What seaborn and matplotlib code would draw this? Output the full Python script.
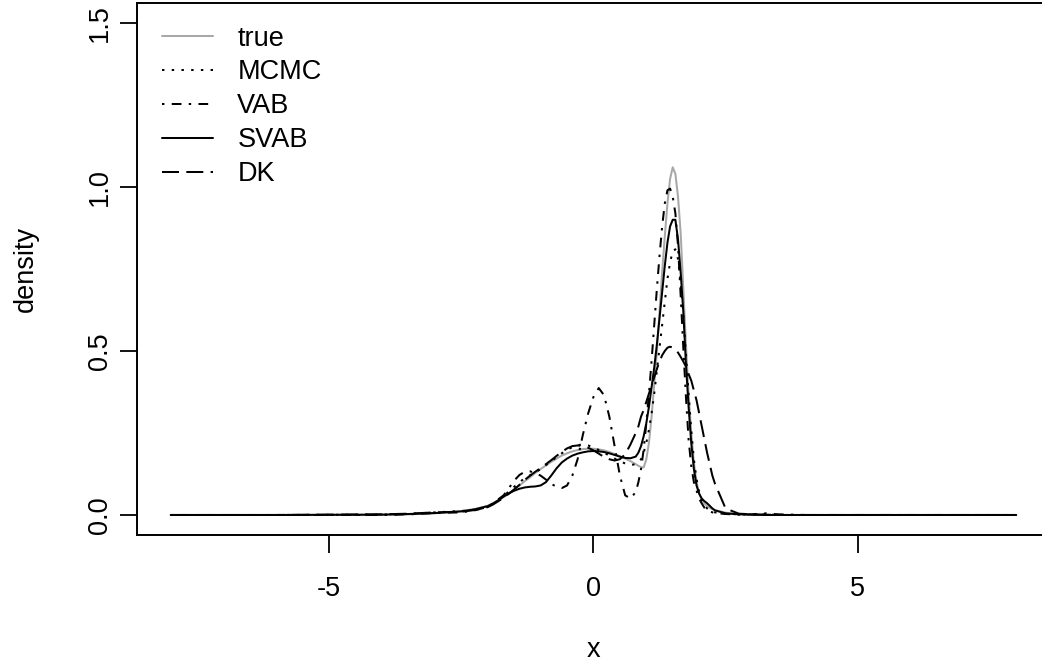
import matplotlib
matplotlib.use("Agg")
import matplotlib.pyplot as plt
import seaborn as sns
import pandas as pd

# ---- data ----
x_grid = [-8, -6, -4, -3.5, -3, -2.5, -2.25,
          -2.0, -1.9, -1.8, -1.7, -1.6, -1.5, -1.4, -1.3, -1.2, -1.1,
          -1.0, -0.9, -0.8, -0.7, -0.6, -0.5, -0.4, -0.3, -0.2, -0.1,
          0.0, 0.1, 0.2, 0.3, 0.4, 0.5, 0.6, 0.7, 0.8,
          0.85, 0.9, 0.95, 1.0, 1.05, 1.1, 1.15, 1.2, 1.25, 1.3,
          1.35, 1.4, 1.45, 1.5, 1.55, 1.6, 1.65, 1.7, 1.75, 1.8,
          1.85, 1.9, 1.95, 2.0, 2.05, 2.1, 2.15, 2.2, 2.25, 2.3,
          2.5, 2.75, 3.0, 3.25, 3.5, 4, 6, 8]

true_density = [0, 0, 0.001, 0.002, 0.005, 0.012, 0.018,
                0.028, 0.036, 0.045, 0.055, 0.066, 0.078, 0.090, 0.103, 0.115, 0.128,
                0.140, 0.151, 0.162, 0.172, 0.181, 0.188, 0.194, 0.198, 0.201, 0.202,
                0.202, 0.200, 0.197, 0.192, 0.186, 0.179, 0.172, 0.164, 0.155,
                0.150, 0.146, 0.145, 0.170, 0.220, 0.300, 0.400, 0.500, 0.620, 0.740,
                0.850, 0.950, 1.025, 1.060, 1.040, 0.970, 0.860, 0.690, 0.520, 0.370,
                0.250, 0.160, 0.100, 0.065, 0.045, 0.035, 0.027, 0.022, 0.018, 0.015,
                0.007, 0.003, 0.001, 0, 0, 0, 0, 0]

mcmc_density = [0, 0, 0.001, 0.003, 0.008, 0.012, 0.016,
                0.025, 0.034, 0.045, 0.058, 0.072, 0.086, 0.100, 0.112, 0.121, 0.130,
                0.140, 0.152, 0.164, 0.176, 0.188, 0.198, 0.207, 0.213, 0.215, 0.212,
                0.206, 0.198, 0.190, 0.181, 0.172, 0.164, 0.157, 0.152, 0.155,
                0.160, 0.170, 0.190, 0.220, 0.260, 0.310, 0.370, 0.440, 0.510, 0.580,
                0.650, 0.720, 0.770, 0.805, 0.810, 0.780, 0.710, 0.610, 0.490, 0.370,
                0.260, 0.170, 0.110, 0.070, 0.045, 0.030, 0.020, 0.014, 0.010, 0.008,
                0.004, 0.002, 0.001, 0.002, 0, 0, 0, 0]

vab_density = [0, 0, 0, 0.002, 0.006, 0.008, 0.014,
               0.025, 0.035, 0.048, 0.060, 0.082, 0.105, 0.122, 0.132, 0.133, 0.128,
               0.120, 0.108, 0.095, 0.086, 0.082, 0.090, 0.120, 0.170, 0.245, 0.310,
               0.360, 0.387, 0.365, 0.300, 0.210, 0.120, 0.060, 0.050, 0.070,
               0.100, 0.140, 0.200, 0.280, 0.370, 0.470, 0.580, 0.690, 0.790, 0.880,
               0.950, 0.990, 0.995, 0.970, 0.920, 0.820, 0.670, 0.510, 0.360, 0.230,
               0.150, 0.100, 0.075, 0.050, 0.035, 0.022, 0.015, 0.011, 0.008, 0.006,
               0.003, 0.001, 0.002, 0.005, 0.002, 0, 0, 0]

svab_density = [0, 0, 0.001, 0.003, 0.006, 0.011, 0.017,
                0.027, 0.035, 0.045, 0.056, 0.066, 0.074, 0.080, 0.084, 0.086, 0.087,
                0.090, 0.100, 0.120, 0.142, 0.160, 0.172, 0.181, 0.187, 0.191, 0.194,
                0.195, 0.194, 0.192, 0.188, 0.183, 0.178, 0.174, 0.173, 0.178,
                0.190, 0.210, 0.240, 0.280, 0.330, 0.390, 0.450, 0.520, 0.600, 0.680,
                0.760, 0.830, 0.880, 0.900, 0.900, 0.840, 0.740, 0.620, 0.460, 0.330,
                0.220, 0.140, 0.090, 0.065, 0.050, 0.042, 0.036, 0.028, 0.020, 0.014,
                0.005, 0.002, 0.001, 0, 0, 0, 0, 0]

dk_density = [0, 0, 0.002, 0.004, 0.008, 0.010, 0.015,
              0.024, 0.032, 0.042, 0.053, 0.065, 0.078, 0.092, 0.107, 0.120, 0.132,
              0.143, 0.155, 0.167, 0.180, 0.192, 0.203, 0.210, 0.212, 0.210, 0.205,
              0.197, 0.187, 0.177, 0.170, 0.166, 0.170, 0.185, 0.215, 0.250,
              0.270, 0.300, 0.320, 0.345, 0.370, 0.395, 0.420, 0.445, 0.468, 0.487,
              0.500, 0.510, 0.513, 0.510, 0.505, 0.495, 0.482, 0.468, 0.452, 0.430,
              0.410, 0.380, 0.350, 0.310, 0.270, 0.230, 0.190, 0.155, 0.120, 0.095,
              0.020, 0.004, 0.002, 0.001, 0, 0, 0, 0]

series_names = ["true", "MCMC", "VAB", "SVAB", "DK"]
series_values = [true_density, mcmc_density, vab_density, svab_density, dk_density]

x_ticks = [-5, 0, 5]
y_ticks = [0.0, 0.5, 1.0, 1.5]
y_tick_labels = ["0.0", "0.5", "1.0", "1.5"]

# ---- styling ----
sns.set_theme(style="white")
plt.rcParams["font.family"] = ["Liberation Sans", "DejaVu Sans"]
plt.rcParams["axes.unicode_minus"] = False
plt.rcParams["lines.scale_dashes"] = False
plt.rcParams["text.color"] = "black"
plt.rcParams["axes.labelcolor"] = "black"

FS = 19.5
u = 1.75  # dash unit in points
styles = {
    "true": dict(color="#A8A8A8", linestyle="-"),
    "MCMC": dict(color="black", linestyle=(0, (u, 3 * u))),
    "VAB": dict(color="black", linestyle=(0, (u, 3 * u, 4 * u, 3 * u))),
    "SVAB": dict(color="black", linestyle="-"),
    "DK": dict(color="black", linestyle=(0, (7 * u, 3 * u))),
}

fig = plt.figure(figsize=(10.42, 6.67), dpi=100)
ax = fig.add_axes([0.1314, 0.1984, 0.8763, 0.7967])

for name, vals in zip(series_names, series_values):
    df = pd.DataFrame({"x": x_grid, "density": vals})
    sns.lineplot(data=df, x="x", y="density", ax=ax, label=name,
                 linewidth=1.45, estimator=None, sort=False, **styles[name])

ax.set_xlim(-8.64, 8.64)
ax.set_ylim(-0.06, 1.56)
ax.set_xticks(x_ticks)
ax.set_xticklabels([str(t) for t in x_ticks])
ax.set_yticks(y_ticks)
ax.set_yticklabels(y_tick_labels, rotation=90, va="center")

for side, sp in ax.spines.items():
    sp.set_visible(side != "right")
    sp.set_color("black")
    sp.set_linewidth(1.4)

ax.tick_params(axis="both", which="major", direction="out", length=12.6,
               width=1.3, color="black", labelsize=FS, labelcolor="black",
               bottom=True, left=True)
ax.tick_params(axis="x", pad=17)
ax.tick_params(axis="y", pad=4.5)

ax.set_xlabel("x", fontsize=FS, labelpad=25, color="black")
ax.set_ylabel("density", fontsize=FS, labelpad=35, color="black")

leg = ax.legend(loc="upper left", bbox_to_anchor=(0.0272, 0.958),
                frameon=False, fontsize=FS, handlelength=1.89,
                handletextpad=0.9, labelspacing=0.29, borderpad=0,
                borderaxespad=0)
for t in leg.get_texts():
    t.set_color("black")

fig.savefig("out.png", dpi=100)
